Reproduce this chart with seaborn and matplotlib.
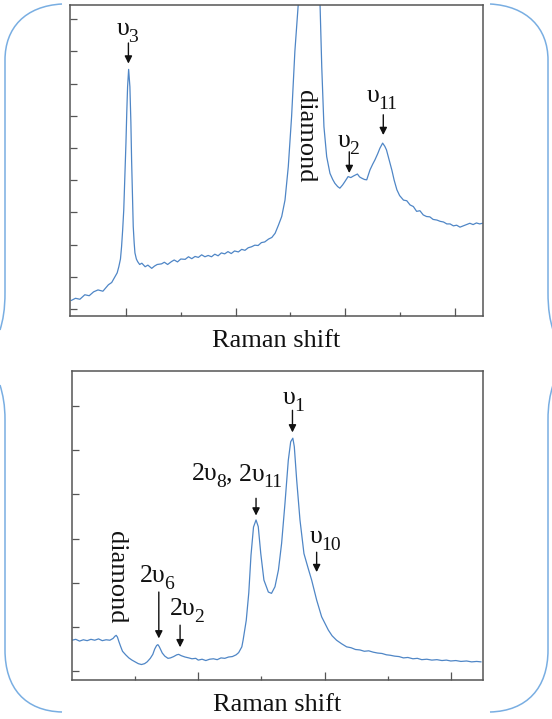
import matplotlib
matplotlib.use("Agg")
import matplotlib.pyplot as plt
from matplotlib.path import Path
from matplotlib.patches import PathPatch
import seaborn as sns
import pandas as pd

# ---------------- data (arbitrary units) ----------------
top_x = [0.00, 0.08, 0.16, 0.25, 0.33, 0.41, 0.49, 0.58, 0.68, 0.74, 0.80, 0.84, 0.87, 0.90, 0.92,
         0.94, 0.96, 0.98, 1.00, 1.015, 1.03, 1.049, 1.06, 1.072, 1.09, 1.103, 1.12, 1.133, 1.15,
         1.164, 1.19, 1.213, 1.25, 1.29, 1.35, 1.40, 1.47, 1.52, 1.57, 1.65, 1.70, 1.76, 1.83, 1.88,
         1.94, 2.00, 2.08, 2.14, 2.20, 2.26, 2.32, 2.38, 2.44, 2.50, 2.56, 2.62, 2.68, 2.74, 2.80,
         2.86, 2.92, 2.98, 3.05, 3.11, 3.17, 3.23, 3.29, 3.35, 3.41, 3.47, 3.53, 3.60, 3.66, 3.72,
         3.78, 3.84, 3.90, 3.96, 4.02, 4.08, 4.14, 4.20, 4.34, 4.48, 4.54, 4.57, 4.61, 4.66, 4.72,
         4.77, 4.81, 4.86, 4.90, 4.95, 4.99, 5.05, 5.10, 5.15, 5.22, 5.26, 5.30, 5.35, 5.39, 5.45,
         5.50, 5.54, 5.59, 5.63, 5.68, 5.72, 5.75, 5.80, 5.85, 5.89, 5.94, 5.99, 6.06, 6.12, 6.18,
         6.24, 6.30, 6.36, 6.42, 6.48, 6.54, 6.60, 6.67, 6.73, 6.79, 6.85, 6.91, 6.97, 7.03, 7.09,
         7.15, 7.21, 7.27, 7.33, 7.39, 7.45, 7.50]
top_y = [0.26, 0.33, 0.30, 0.44, 0.41, 0.53, 0.59, 0.55, 0.75, 0.82, 1.00, 1.12, 1.31, 1.55, 1.93,
         2.45, 3.07, 4.10, 5.15, 6.10, 6.90, 7.44, 7.20, 6.90, 5.80, 4.63, 3.50, 2.56, 2.05,
         1.74, 1.55, 1.47, 1.38, 1.42, 1.31, 1.36, 1.26, 1.33, 1.38, 1.40, 1.45, 1.38, 1.47, 1.52,
         1.46, 1.55, 1.54, 1.62, 1.56, 1.63, 1.60, 1.68, 1.62, 1.66, 1.62, 1.70, 1.65, 1.74, 1.71,
         1.78, 1.72, 1.80, 1.77, 1.85, 1.82, 1.90, 1.93, 1.98, 1.97, 2.06, 2.08, 2.17, 2.22, 2.35,
         2.60, 2.87, 3.38, 4.42, 5.97, 8.00, 9.40, 11.0, 14.0, 11.5, 9.39, 7.52, 5.66, 4.73, 4.21,
         4.02, 3.90, 3.80, 3.75, 3.85, 3.95, 4.11, 4.08, 4.13, 4.19, 4.10, 4.06, 4.02, 4.01, 4.32,
         4.50, 4.63, 4.82, 4.99, 5.15, 5.05, 4.94, 4.62, 4.30, 4.00, 3.70, 3.52, 3.38, 3.36, 3.23,
         3.18, 3.03, 3.05, 2.92, 2.87, 2.86, 2.78, 2.76, 2.72, 2.70, 2.64, 2.64, 2.58, 2.60, 2.54,
         2.58, 2.62, 2.66, 2.62, 2.67, 2.64, 2.66]

bot_x = [0.00, 0.06, 0.12, 0.18, 0.24, 0.30, 0.36, 0.42, 0.48, 0.54, 0.60, 0.65, 0.68, 0.70, 0.72,
         0.74, 0.77, 0.80, 0.85, 0.90, 0.95, 1.00, 1.05, 1.10, 1.15, 1.19, 1.24, 1.28, 1.31, 1.34,
         1.36, 1.38, 1.40, 1.43, 1.47, 1.52, 1.56, 1.61, 1.66, 1.69, 1.73, 1.79, 1.85, 1.90, 1.96,
         2.00, 2.06, 2.12, 2.18, 2.24, 2.30, 2.36, 2.42, 2.48, 2.54, 2.60, 2.64, 2.69, 2.71, 2.76,
         2.80, 2.835, 2.875, 2.915, 2.95, 2.99, 3.04, 3.11, 3.16, 3.215, 3.27, 3.32, 3.373, 3.426,
         3.464, 3.498, 3.521, 3.559, 3.611, 3.674, 3.742, 3.796, 3.875, 3.954, 4.06, 4.12, 4.19,
         4.27, 4.35, 4.42, 4.49, 4.56, 4.63, 4.70, 4.77, 4.84, 4.91, 4.98, 5.04, 5.11, 5.18, 5.25,
         5.32, 5.40, 5.47, 5.54, 5.62, 5.70, 5.78, 5.86, 5.93, 6.00, 6.08, 6.16, 6.25, 6.33, 6.41,
         6.48]
bot_y = [0.70, 0.72, 0.68, 0.71, 0.69, 0.72, 0.70, 0.73, 0.69, 0.71, 0.70, 0.74, 0.79, 0.81, 0.77,
         0.68, 0.56, 0.45, 0.37, 0.30, 0.25, 0.21, 0.17, 0.15, 0.17, 0.21, 0.29, 0.38, 0.50, 0.58,
         0.60, 0.56, 0.50, 0.41, 0.34, 0.29, 0.30, 0.33, 0.37, 0.38, 0.35, 0.32, 0.30, 0.28, 0.29,
         0.25, 0.27, 0.24, 0.27, 0.28, 0.26, 0.30, 0.29, 0.32, 0.33, 0.37, 0.42, 0.55, 0.70, 1.15,
         1.77, 2.62, 3.26, 3.42, 3.27, 2.66, 2.06, 1.79, 1.76, 1.91, 2.29, 2.89, 3.79, 4.77,
         5.19, 5.27, 5.08, 4.32, 3.42, 2.66, 2.32, 2.06, 1.61, 1.23, 0.93, 0.80, 0.70,
         0.62, 0.55, 0.53, 0.49, 0.48, 0.45, 0.46, 0.43, 0.41, 0.40, 0.37, 0.36, 0.34, 0.33, 0.30,
         0.31, 0.28, 0.29, 0.26, 0.27, 0.25, 0.26, 0.24, 0.25, 0.23, 0.24, 0.22, 0.23, 0.21, 0.22,
         0.21]

# annotations: (label parts [(main, subscript), ...], label_left_x, label_baseline_y,
#               arrow_x, arrow_tail_y, arrow_head_y)
top_labels = [
    ([("υ", "3")], 0.835, 8.51, 1.045, 8.26, 7.62),
    ([("υ", "2")], 4.866, 5.03, 5.072, 4.88, 4.22),
    ([("υ", "11")], 5.395, 6.43, 5.692, 6.03, 5.40),
]
bot_labels = [
    ([("υ", "1")], 3.334, 6.04, 3.492, 5.90, 5.40),
    ([("2υ", "8"), (", 2υ", "11")], 1.902, 4.32, 2.915, 3.91, 3.52),
    ([("υ", "10")], 3.769, 2.90, 3.875, 2.69, 2.24),
    ([("2υ", "6")], 1.079, 2.01, 1.375, 1.79, 0.74),
    ([("2υ", "2")], 1.554, 1.27, 1.712, 1.04, 0.54),
]
top_diamond = (4.26, 5.37)
bot_diamond = (0.70, 2.13)
xlabel = "Raman shift"

# ---------------- style ----------------
sns.set_theme(style="ticks")
plt.rcParams["font.family"] = ["Liberation Serif", "DejaVu Serif"]

LINE = "#4f86c6"
SPINE = "#555555"
BRACE = "#79aee2"
TXT = "#111111"
MAIN_FS = 18.5
SUB_FS = 14

W, H = 552, 719
fig = plt.figure(figsize=(W / 100, H / 100), dpi=100)
fig.patch.set_facecolor("white")


def frac_rect(l, t, r, b):
    return [l / W, 1 - b / H, (r - l) / W, (b - t) / H]


ax1 = fig.add_axes(frac_rect(70, 5, 483, 316))
ax2 = fig.add_axes(frac_rect(72, 371, 483, 680))

df_top = pd.DataFrame({"x": top_x, "y": top_y})
df_bot = pd.DataFrame({"x": bot_x, "y": bot_y})
sns.lineplot(data=df_top, x="x", y="y", ax=ax1, color=LINE, lw=0.9, sort=False, estimator=None)
sns.lineplot(data=df_bot, x="x", y="y", ax=ax2, color=LINE, lw=0.9, sort=False, estimator=None)

ax1.set_xlim(-0.02, 7.51)
ax1.set_ylim(-0.22, 9.44)
ax2.set_xlim(0.0, 6.51)
ax2.set_ylim(-0.2, 6.79)

ax1.set_xticks([1, 3, 5, 7])
ax1.set_xticks([2, 4, 6], minor=True)
ax1.set_yticks(range(0, 10))
ax2.set_xticks([2, 4, 6])
ax2.set_xticks([1, 3, 5], minor=True)
ax2.set_yticks(range(0, 7))

for ax in (ax1, ax2):
    for s in ax.spines.values():
        s.set_color(SPINE)
        s.set_linewidth(1.1)
        s.set_visible(True)
    ax.tick_params(which="major", direction="in", length=5, width=0.9, color=SPINE,
                   labelbottom=False, labelleft=False, top=False, right=False)
    ax.tick_params(which="minor", direction="in", length=3, width=0.9, color=SPINE,
                   labelbottom=False, labelleft=False, top=False, right=False)
    ax.tick_params(axis="y", which="minor", left=False)
    ax.tick_params(axis="x", which="major", length=6)
    ax.set_ylabel("")
    ax.set_xlabel(xlabel, fontsize=19, labelpad=10, color=TXT)
    ax.set_facecolor("white")


def label(ax, parts, x, y):
    prev = None
    base = None
    for main, sub in parts:
        if prev is None:
            m = ax.text(x, y, main, ha="left", va="baseline", fontsize=MAIN_FS, color=TXT)
            base = m
        else:
            m = ax.annotate(main, xy=(1, 0), xycoords=(prev, base), xytext=(0.0, 0),
                            textcoords="offset points", ha="left", va="bottom",
                            fontsize=MAIN_FS, color=TXT)
        s = ax.annotate(sub, xy=(1, 0), xycoords=m, xytext=(-1.0, -4.3),
                        textcoords="offset points", ha="left", va="bottom",
                        fontsize=SUB_FS, color=TXT)
        prev = s


def annotate(ax, items):
    for parts, lx, ly, axx, ty, hy in items:
        label(ax, parts, lx, ly)
        ax.annotate("", xy=(axx, hy), xytext=(axx, ty),
                    arrowprops=dict(arrowstyle="-|>", color=TXT, lw=1.0,
                                    mutation_scale=11, shrinkA=0, shrinkB=0))


annotate(ax1, top_labels)
annotate(ax2, bot_labels)
ax1.text(*top_diamond, "diamond", rotation=-90, ha="center", va="center", fontsize=19, color=TXT)
ax2.text(*bot_diamond, "diamond", rotation=-90, ha="center", va="center", fontsize=19, color=TXT)


# ---------------- decorative braces ----------------
def brace(pts):
    verts = [(x / W, 1 - y / H) for x, y in pts]
    codes = [Path.MOVETO, Path.CURVE4, Path.CURVE4, Path.CURVE4, Path.LINETO,
             Path.CURVE4, Path.CURVE4, Path.CURVE4]
    p = PathPatch(Path(verts, codes), transform=fig.transFigure, fill=False,
                  edgecolor=BRACE, lw=1.1)
    fig.add_artist(p)


brace([(62, 4), (25, 6), (5, 28), (5, 60), (5, 292), (5, 310), (3, 320), (0, 330)])
brace([(490, 4), (527, 6), (548, 28), (548, 60), (548, 292), (548, 310), (550, 320), (553, 330)])
brace([(0, 385), (3, 395), (5, 405), (5, 420), (5, 650), (5, 688), (25, 711), (62, 712)])
brace([(553, 385), (550, 395), (548, 405), (548, 420), (548, 650), (548, 688), (527, 711), (490, 712)])

fig.savefig("out.png", dpi=100, facecolor="white")
